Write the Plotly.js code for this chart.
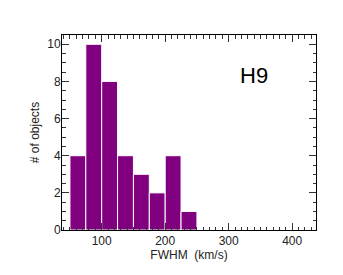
<!DOCTYPE html>
<html><head><meta charset="utf-8">
<script src="https://cdn.plot.ly/plotly-3.0.1.min.js"></script>
<style>body{margin:0;background:#fff}#c{width:343px;height:275px}</style>
</head><body><div id="c"></div>
<script>
const binLeft = [50, 75, 100, 125, 150, 175, 200, 225];
const counts = [4, 10, 8, 4, 3, 2, 4, 1];
const binWidth = 25;
const xTicks = [100, 200, 300, 400];
const yTicks = [0, 2, 4, 6, 8, 10];
const label = "H9";

const fnt = {family: "Liberation Sans, Arial, sans-serif", size: 12, color: "#222"};
Plotly.newPlot("c", [{
  type: "bar",
  x: binLeft,
  y: counts,
  width: binLeft.map(() => binWidth),
  offset: 0,
  marker: {color: "#800080", line: {color: "#ffffff", width: 1}},
  hoverinfo: "skip"
}], {
  width: 343, height: 275,
  margin: {l: 62, r: 27, t: 35, b: 45},
  paper_bgcolor: "#fff", plot_bgcolor: "#fff",
  showlegend: false,
  font: fnt,
  xaxis: {
    range: [37.5, 437.5], tickvals: xTicks, ticks: "inside", ticklen: 7, tickcolor: "#333",
    minor: {dtick: 10, ticks: "inside", ticklen: 3.5, tickcolor: "#333"},
    showline: true, linecolor: "#000", linewidth: 1, mirror: "ticks", showgrid: false, zeroline: false,
    ticklabelstandoff: 0,
    title: {text: "FWHM  (km/s)", font: fnt, standoff: 0}
  },
  yaxis: {
    range: [0, 10.5], tickvals: yTicks, ticks: "inside", ticklen: 7, tickcolor: "#333",
    minor: {dtick: 0.5, ticks: "inside", ticklen: 3.5, tickcolor: "#333"},
    showline: true, linecolor: "#000", linewidth: 1, mirror: "ticks", showgrid: false, zeroline: false,
    ticklabelstandoff: -2,
    title: {text: "# of objects", font: fnt, standoff: 5}
  },
  annotations: [{
    text: label, xref: "paper", yref: "paper", x: 0.755, y: 0.79, xanchor: "center", yanchor: "middle",
    showarrow: false, font: {family: "Liberation Sans, Arial, sans-serif", size: 22, color: "#000"}
  }]
}, {staticPlot: true});
</script></body></html>
